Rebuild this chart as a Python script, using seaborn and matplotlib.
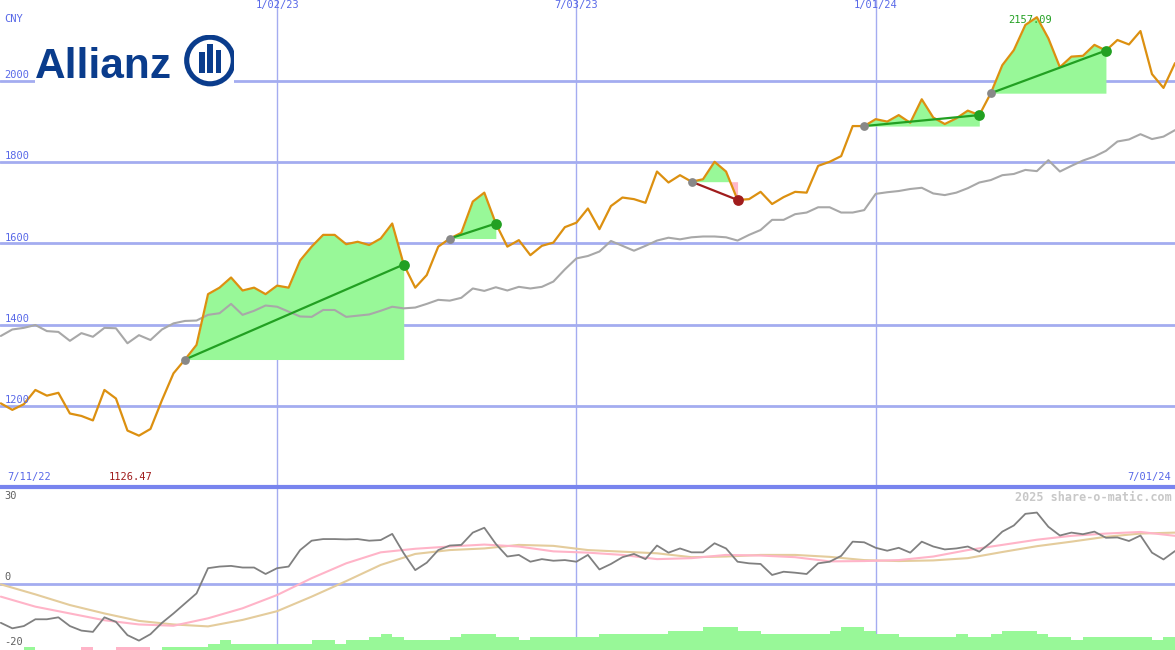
import matplotlib
matplotlib.use("Agg")
import matplotlib.pyplot as plt
import matplotlib.dates as mdates
from matplotlib import patches
import seaborn as sns
import pandas as pd

# weekly closes (CNY), first point 18 Jul 2022
price = [1206, 1190, 1204, 1239, 1225, 1232, 1181, 1175, 1164, 1239,
         1218, 1139, 1126.47, 1143, 1214, 1280, 1314, 1350, 1475, 1491,
         1516, 1484, 1491, 1475, 1496, 1491, 1558, 1592, 1621, 1621,
         1598, 1604, 1596, 1612, 1649, 1548, 1491, 1522, 1592, 1612,
         1626, 1703, 1725, 1649, 1592, 1608, 1571, 1594, 1602, 1640,
         1651, 1686, 1635, 1692, 1713, 1709, 1700, 1777, 1750, 1768,
         1752, 1758, 1801, 1777, 1707, 1709, 1727, 1697, 1714, 1727,
         1725, 1791, 1801, 1815, 1889, 1889, 1906, 1900, 1916, 1897,
         1955, 1910, 1894, 1908, 1927, 1916, 1970, 2039, 2076, 2138,
         2157.09, 2105, 2034, 2060, 2062, 2089, 2075, 2101, 2090, 2123,
         2017, 1983, 2044]

# benchmark (grey line), same weeks
benchmark = [1372, 1388, 1392, 1399, 1384, 1382, 1360, 1379, 1370, 1392,
             1391, 1354, 1374, 1362, 1388, 1403, 1409, 1410, 1424, 1428,
             1451, 1424, 1434, 1447, 1444, 1432, 1420, 1419, 1436, 1436,
             1419, 1422, 1425, 1434, 1444, 1440, 1442, 1451, 1461, 1459,
             1466, 1489, 1483, 1492, 1484, 1493, 1489, 1493, 1506, 1536,
             1563, 1569, 1580, 1606, 1594, 1582, 1594, 1607, 1614, 1610,
             1615, 1617, 1617, 1615, 1607, 1621, 1633, 1658, 1658, 1672,
             1676, 1689, 1689, 1676, 1676, 1682, 1722, 1726, 1729, 1734,
             1737, 1723, 1719, 1725, 1736, 1750, 1756, 1768, 1771, 1781,
             1778, 1805, 1777, 1791, 1804, 1814, 1828, 1851, 1856, 1869,
             1857, 1863, 1879]

# lower panel oscillator (dark grey)
osc = [-12.0, -13.7, -13.0, -10.9, -10.9, -10.3, -13.0, -14.4, -14.8, -10.3,
       -11.7, -15.8, -17.5, -15.5, -12.0, -9.1, -6.0, -2.9, 4.9, 5.4,
       5.6, 5.1, 5.1, 3.1, 4.9, 5.4, 10.5, 13.4, 13.9, 13.9,
       13.8, 13.9, 13.4, 13.6, 15.5, 9.5, 4.3, 6.6, 10.5, 11.9,
       12.1, 15.9, 17.4, 12.4, 8.5, 9.0, 6.9, 7.7, 7.2, 7.4,
       6.9, 9.0, 4.5, 6.2, 8.3, 9.3, 7.7, 11.9, 9.7, 11.0,
       9.8, 9.8, 12.6, 11.0, 6.9, 6.4, 6.2, 2.8, 3.8, 3.5,
       3.1, 6.4, 6.9, 8.7, 13.1, 12.9, 11.2, 10.3, 11.2, 9.7,
       13.1, 11.6, 10.7, 11.0, 11.6, 10.0, 12.8, 16.2, 18.1, 21.7,
       22.1, 17.7, 15.0, 15.9, 15.4, 16.2, 14.3, 14.4, 13.3, 15.0,
       9.7, 7.6, 10.2]

# smoothed lines, read every third week
smooth_weeks = list(range(0, 103, 3))
osc_fast = [-3.9, -7.0, -9.1, -11.2, -12.5, -12.9, -10.6, -7.5, -3.4, 1.8,
            6.4, 9.8, 10.9, 11.6, 12.2, 11.6, 10.1, 9.7, 9.0, 7.7,
            8.0, 9.0, 8.8, 8.3, 7.0, 7.1, 7.4, 8.5, 10.5, 12.1,
            13.7, 14.9, 15.6, 16.1, 14.9]
osc_slow = [-0.1, -3.2, -6.5, -9.1, -11.4, -12.5, -13.1, -11.1, -8.4, -3.9,
            0.9, 5.9, 9.3, 10.5, 11.0, 12.1, 11.8, 10.5, 10.0, 9.5,
            8.3, 8.5, 9.0, 9.0, 8.4, 7.4, 7.1, 7.3, 8.0, 9.9,
            11.7, 13.1, 14.6, 15.6, 15.9]

# bars at the foot of the lower panel (negative = pink)
bar_levels = [0, 0, 1, 0, 0, 0, 0, -1, 0, 0,
              -1, -1, -1, 0, 1, 1, 1, 1, 2, 3,
              2, 2, 2, 2, 2, 2, 2, 3, 3, 2,
              3, 3, 4, 5, 4, 3, 3, 3, 3, 4,
              5, 5, 5, 4, 4, 3, 4, 4, 4, 4,
              4, 4, 5, 5, 5, 5, 5, 5, 6, 6,
              6, 7, 7, 7, 6, 6, 5, 5, 5, 5,
              5, 5, 6, 7, 7, 6, 5, 5, 4, 4,
              4, 4, 4, 5, 4, 4, 5, 6, 6, 6,
              5, 4, 4, 3, 4, 4, 4, 4, 4, 4,
              3, 4, 0]

trend_start = ["2022-11-07", "2023-04-17", "2023-09-11", "2023-12-25", "2024-03-11"]
trend_end = ["2023-03-20", "2023-05-15", "2023-10-09", "2024-03-04", "2024-05-20"]

price_levels = [1200, 1400, 1600, 1800, 2000]
date_lines = ["2023-01-02", "2023-07-03", "2024-01-01"]
date_labels = ["1/02/23", "7/03/23", "1/01/24"]

dates = pd.date_range("2022-07-18", periods=len(price), freq="7D")
s_dates = dates[smooth_weeks]


def num(d):
    return mdates.date2num(pd.Timestamp(d).to_pydatetime())


sns.set_style("white")
plt.rcParams["font.family"] = ["DejaVu Sans Mono"]

GRID = "#a4acf0"
BLUE = "#5868e8"
FS = 7.5

fig = plt.figure(figsize=(11.75, 6.5), dpi=100)
ax = fig.add_axes([0, 163 / 650, 1, 487 / 650])
ax2 = fig.add_axes([0, 0, 1, 163 / 650])

xmin = pd.Timestamp("2022-07-17 12:00")
xmax = pd.Timestamp("2024-07-01")

# ---- top panel
for lv in price_levels:
    ax.axhline(lv, color=GRID, lw=2, zorder=0)
for d in date_lines:
    ax.axvline(pd.Timestamp(d), color=GRID, lw=1, zorder=0)
    ax2.axvline(pd.Timestamp(d), color=GRID, lw=1, zorder=0)

sns.lineplot(x=dates, y=benchmark, ax=ax, color="#a8a8a8", lw=1.5, zorder=2)

ps = pd.Series(price, index=dates)
for s, e in zip(trend_start, trend_end):
    seg = ps[s:e]
    base = seg.iloc[0]
    xs = mdates.date2num(seg.index.to_pydatetime())
    ax.fill_between(xs, seg.values, base, where=seg.values >= base,
                    interpolate=True, color="#98f898", lw=0, zorder=1)
    ax.fill_between(xs, seg.values, base, where=seg.values < base,
                    interpolate=True, color="#ffb8c8", lw=0, zorder=1)

sns.lineplot(x=dates, y=price, ax=ax, color="#dc9010", lw=1.6, zorder=3)

for s, e in zip(trend_start, trend_end):
    up = ps[e] >= ps[s]
    c = "#22a022" if up else "#a01c1c"
    ax.plot([num(s), num(e)], [ps[s], ps[e]], color=c, lw=1.6, zorder=4)
    ax.scatter([num(s)], [ps[s]], s=40, color="#888888", zorder=5, lw=0)
    ax.scatter([num(e)], [ps[e]], s=60, color=c, zorder=5, lw=0)

ax.set_xlim(xmin, xmax)
ax.set_ylim(1000, 2199.5)
ax.set_xticks([])
ax.set_yticks([])
ax.set_xlabel("")
for sp in ax.spines.values():
    sp.set_visible(False)

ytr = ax.get_yaxis_transform()
for lv in price_levels:
    ax.text(0.004, lv + 2, str(lv), transform=ytr, color=BLUE, fontsize=FS, va="bottom")
ax.text(0.004, 0.972, "CNY", transform=ax.transAxes, color=BLUE, fontsize=FS, va="top")

xtr = ax.get_xaxis_transform()
for d, lab in zip(date_lines, date_labels):
    ax.text(num(d), 0.999, lab, transform=xtr, color=BLUE, fontsize=FS,
            ha="center", va="top")
ax.text(0.006, 0.01, "7/11/22", transform=ax.transAxes, color=BLUE, fontsize=FS, va="bottom")
ax.text(0.997, 0.01, "7/01/24", transform=ax.transAxes, color=BLUE, fontsize=FS,
        va="bottom", ha="right")

imin = ps.idxmin()
imax = ps.idxmax()
ax.annotate(f"{ps[imin]:.2f}", (num(imin), 0.01), xycoords=xtr, xytext=(-8, 0),
            textcoords="offset pixels", color="#a01c1c", fontsize=FS, ha="center", va="bottom")
ax.annotate(f"{ps[imax]:.2f}", (num(imax), 0.959), xycoords=xtr, xytext=(-7, 0),
            textcoords="offset pixels", color="#22a022", fontsize=FS, ha="center",
            va="center", zorder=2)

# ---- bottom panel
ax2.axhline(0, color=GRID, lw=2, zorder=0)
sns.lineplot(x=s_dates, y=osc_slow, ax=ax2, color="#e4cc9c", lw=1.5, zorder=2)
sns.lineplot(x=s_dates, y=osc_fast, ax=ax2, color="#ffb4c8", lw=1.5, zorder=2)
sns.lineplot(x=dates, y=osc, ax=ax2, color="#808080", lw=1.3, zorder=3)

ybot = -20.4
xnum = mdates.date2num(dates.to_pydatetime())
heights = [abs(v) for v in bar_levels]
colors = ["#ffb4c8" if v < 0 else "#98f898" for v in bar_levels]
ax2.bar(xnum, heights, bottom=ybot, width=7, align="edge", color=colors, lw=0, zorder=1)

ax2.set_xlim(xmin, xmax)
ax2.set_ylim(ybot, 30)
ax2.set_xticks([])
ax2.set_yticks([])
ax2.set_xlabel("")
for sp in ax2.spines.values():
    sp.set_visible(False)
# divider between the two panels
ax2.axhline(30, color="#7884ee", lw=3, zorder=6, clip_on=False)

ytr2 = ax2.get_yaxis_transform()
ax2.text(0.004, 28.8, "30", transform=ytr2, color="#606060", fontsize=FS, va="top")
ax2.text(0.004, 0.6, "0", transform=ytr2, color="#606060", fontsize=FS, va="bottom")
ax2.text(0.004, -19.6, "-20", transform=ytr2, color="#606060", fontsize=FS, va="bottom")
ax2.text(0.9975, 28.8, "2025 share-o-matic.com", transform=ytr2, color="#c8c8c8",
         fontsize=8.5, fontweight="bold", ha="right", va="top")

# ---- logo
lg = fig.add_axes([35 / 1175, 1 - 90 / 650, 199 / 1175, 55 / 650], facecolor="white")
lg.set_xlim(0, 199)
lg.set_ylim(55, 0)
lg.set_xticks([])
lg.set_yticks([])
for sp in lg.spines.values():
    sp.set_visible(False)
navy = "#0a3c8c"
lg.text(0, 43, "Allianz", fontsize=30.5, fontweight="bold", family="Liberation Sans",
        color=navy, va="baseline")
lg.add_patch(patches.Circle((175, 25.5), 23.3, fill=False, lw=3.7, edgecolor=navy))
lg.add_patch(patches.Rectangle((164, 17), 5.5, 20.5, color=navy, lw=0))
lg.add_patch(patches.Rectangle((172.3, 9), 5.5, 28.5, color=navy, lw=0))
lg.add_patch(patches.Rectangle((180.6, 15), 5.5, 22.5, color=navy, lw=0))

fig.savefig("out.png", dpi=100)
